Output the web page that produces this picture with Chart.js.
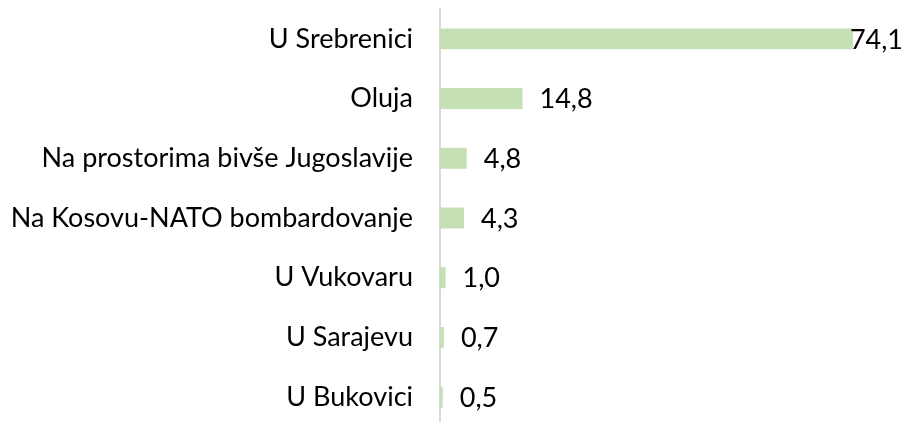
<!DOCTYPE html>
<html>
<head>
<meta charset="utf-8">
<script src="https://cdn.jsdelivr.net/npm/chart.js@4"></script>
<style>
  html, body { margin: 0; padding: 0; background: #fff; overflow: hidden; }
  #wrap { position: relative; width: 909px; height: 427px; }
</style>
</head>
<body>
<div id="wrap"><canvas id="chart"></canvas></div>
<script>
/* Data */
var categories = ['U Srebrenici', 'Oluja', 'Na prostorima bivše Jugoslavije', 'Na Kosovu-NATO bombardovanje', 'U Vukovaru', 'U Sarajevu', 'U Bukovici'];
var values = [74.1, 14.8, 4.8, 4.3, 1.0, 0.7, 0.5];
var xMax = 80;

var FONT = 'Lato, "Open Sans", sans-serif';

/* Value labels after each bar */
var valueLabels = {
  id: 'valueLabels',
  afterDatasetsDraw: function(chart) {
    var ctx = chart.ctx;
    var meta = chart.getDatasetMeta(0);
    ctx.save();
    ctx.font = '27px ' + FONT;
    ctx.fillStyle = '#000';
    ctx.textBaseline = 'middle';
    ctx.textAlign = 'left';
    meta.data.forEach(function(bar, i) {
      var txt = values[i].toFixed(1).replace('.', ',');
      var w = ctx.measureText(txt).width;
      var x = Math.min(bar.x + 17, chart.width - 6 - w);
      ctx.fillText(txt, x, bar.y + 1);
    });
    ctx.restore();
  }
};

new Chart(document.getElementById('chart'), {
  type: 'bar',
  data: {
    labels: categories,
    datasets: [{
      data: values,
      backgroundColor: '#c5e0b4',
      borderWidth: 0,
      categoryPercentage: 0.7,
      barPercentage: 0.5
    }]
  },
  options: {
    indexAxis: 'y',
    responsive: true,
    maintainAspectRatio: false,
    animation: false,
    layout: { padding: { top: 9, right: 23, bottom: 0, left: 0 } },
    plugins: { legend: { display: false }, tooltip: { enabled: false } },
    scales: {
      x: { display: false, min: 0, max: xMax },
      y: {
        grid: { display: false, drawTicks: false },
        border: { display: true, color: '#d9d9d9', width: 2 },
        ticks: { color: '#000', padding: 27, font: { family: FONT, size: 27 } },
        afterFit: function(scale) {
          scale.width = 440;
          scale.paddingTop = 0;
          scale.paddingBottom = 0;
        }
      }
    }
  },
  plugins: [valueLabels]
});
</script>
</body>
</html>
